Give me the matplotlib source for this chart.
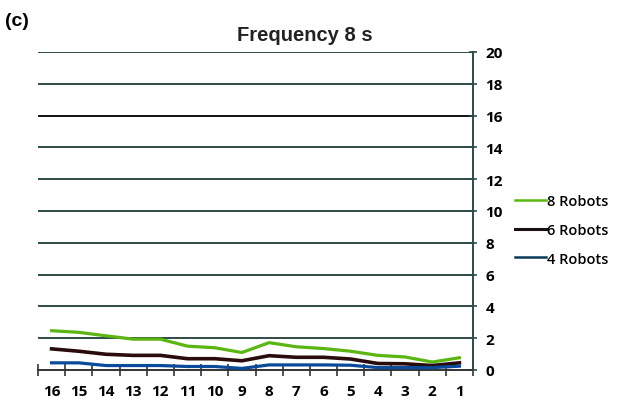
import matplotlib
matplotlib.use("Agg")
import matplotlib.pyplot as plt
import numpy as np
from matplotlib.lines import Line2D

categories = ["16", "15", "14", "13", "12", "11", "10", "9", "8", "7", "6", "5", "4", "3", "2", "1"]
robots8 = [2.47, 2.37, 2.15, 1.94, 1.94, 1.50, 1.40, 1.10, 1.72, 1.46, 1.35, 1.18, 0.92, 0.82, 0.50, 0.77]
robots6 = [1.33, 1.18, 0.99, 0.92, 0.92, 0.71, 0.71, 0.58, 0.90, 0.80, 0.80, 0.69, 0.41, 0.39, 0.28, 0.45]
robots4 = [0.45, 0.45, 0.28, 0.28, 0.28, 0.22, 0.22, 0.10, 0.32, 0.32, 0.32, 0.30, 0.15, 0.15, 0.15, 0.24]
yticks = list(range(0, 21, 2))

plt.rcParams['font.family'] = ['Open Sans', 'DejaVu Sans']

fig = plt.figure(figsize=(6.21, 4.06), dpi=100)
ax = fig.add_axes([38/621, 35/406, (473-38)/621, (371-53)/406])

x = np.arange(len(categories))
grid_col = "#2f4a48"
for yv in yticks[1:]:
    ax.axhline(yv, color="#111111" if yv == 16 else grid_col, lw=1.4, zorder=1)

ax.plot(x, robots8, color="#5bb512", lw=2.3, zorder=3)
ax.plot(x, robots6, color="#2a0c0c", lw=2.6, zorder=3)
ax.plot(x, robots4, color="#0a4a9a", lw=2.3, zorder=3)

ax.set_xlim(-0.5, len(categories) - 0.5)
ax.set_ylim(0, 20)
ax.set_xticks(x)
ax.set_xticklabels(categories, fontsize=11, fontweight='bold')
ax.set_xticks(np.arange(-0.5, len(categories)), minor=True)
ax.tick_params(axis='x', which='major', length=0, pad=10)
ax.tick_params(axis='x', which='minor', length=8, direction='inout', color='#333333', width=1.2)

ax.yaxis.tick_right()
ax.set_yticks(yticks)
ax.set_yticklabels([str(v) for v in yticks], fontsize=11, fontweight='bold')
ax.tick_params(axis='y', length=6, direction='inout', color=grid_col, width=1.2, pad=6)

for s in ['top', 'left']:
    ax.spines[s].set_visible(False)
ax.spines['right'].set_color(grid_col)
ax.spines['right'].set_linewidth(1.4)
ax.spines['bottom'].set_color('#333333')
ax.spines['bottom'].set_linewidth(1.4)
ax.spines['bottom'].set_zorder(2)

fig.text(305/621, 1 - 41/406, "Frequency 8 s", fontsize=14.5, fontweight='bold',
         ha='center', va='baseline', color='#222222',
         family=['Liberation Sans', 'DejaVu Sans'])
fig.text(5/621, 1 - 22/406, "(c)", fontsize=14, fontweight='bold', va='center', ha='left',
         family=['Liberation Sans', 'DejaVu Sans'])

handles = [Line2D([0], [0], color="#5bb512", lw=1.8),
           Line2D([0], [0], color="#1a1010", lw=2.2),
           Line2D([0], [0], color="#0a3a5a", lw=1.8)]
leg = fig.legend(handles, ["8 Robots", "6 Robots", "4 Robots"], loc='center left',
                 bbox_to_anchor=(502/621, 1 - 231/406), frameon=False,
                 prop={'size': 10.5, 'weight': 'semibold'},
                 handlelength=2.1, handletextpad=0.1, labelspacing=1.0)

fig.savefig("out.png", dpi=100)
